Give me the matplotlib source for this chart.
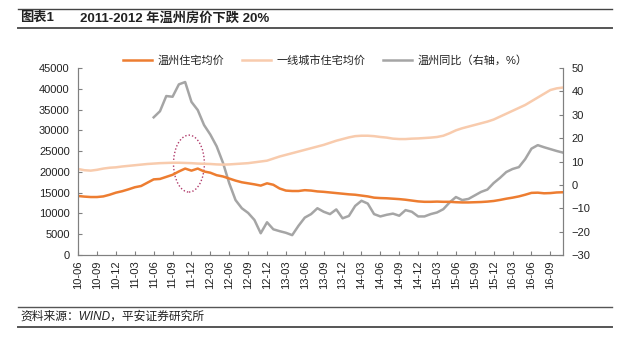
import numpy as np
import pandas as pd
import matplotlib
matplotlib.use("Agg")
import matplotlib.pyplot as plt
from matplotlib.patches import Ellipse
from matplotlib.lines import Line2D

plt.rcParams['font.family'] = ['Liberation Sans', 'Noto Sans CJK SC', 'DejaVu Sans']

# monthly data, 2010-06 .. 2016-11
months = pd.period_range('2010-06', '2016-11', freq='M')

wenzhou_price = [
    14200, 14050, 13950, 13950, 14100, 14500, 15000, 15350, 15800, 16300,
    16600, 17400, 18200, 18300, 18800, 19300, 20100, 20800, 20300, 20800,
    20100, 19800, 19200, 18900, 18400, 17900, 17500, 17250, 17000, 16700,
    17250, 16900, 16000, 15500, 15400, 15400, 15600, 15500, 15300, 15200,
    15050, 14900, 14750, 14600, 14500, 14300, 14100, 13800, 13700, 13650,
    13550, 13450, 13300, 13100, 12900, 12800, 12800, 12850, 12800, 12800,
    12700, 12650, 12650, 12700, 12750, 12850, 13000, 13250, 13550, 13800,
    14100, 14500, 14950, 15000, 14850, 14900, 15050, 15100,
]

tier1_price = [
    20700, 20400, 20300, 20500, 20800, 21000, 21100, 21300, 21450, 21600,
    21750, 21900, 22000, 22100, 22150, 22200, 22200, 22150, 22100, 22000,
    21950, 21900, 21800, 21750, 21800, 21900, 22000, 22100, 22300, 22500,
    22700, 23200, 23700, 24100, 24500, 24900, 25300, 25700, 26100, 26500,
    27000, 27500, 27900, 28300, 28600, 28700, 28700, 28600, 28400, 28250,
    28000, 27900, 27900, 28000, 28050, 28150, 28250, 28400, 28700, 29300,
    30000, 30500, 30900, 31300, 31700, 32100, 32600, 33300, 34000, 34700,
    35400, 36100, 37000, 37900, 38800, 39700, 40100, 40300,
]

wenzhou_yoy = [np.nan] * 12 + [
    28.9, 31.5, 38.0, 37.7, 43.0, 44.0, 35.5, 32.0, 25.6, 21.5,
    16.5, 9.5, 0.7, -6.5, -10.0, -12.0, -15.0, -20.7, -16.0, -19.0,
    -19.8, -20.5, -21.5, -17.5, -14.0, -12.5, -10.0, -11.5, -12.5, -10.5,
    -14.3, -13.3, -9.0, -6.8, -8.0, -12.5, -13.5, -12.8, -12.3, -13.2,
    -10.8, -11.5, -13.5, -13.5, -12.5, -11.8, -10.4, -7.5, -5.2, -6.5,
    -6.0, -4.5, -3.0, -2.0, 0.8, 3.0, 5.5, 6.8, 7.6, 11.0,
    15.5, 17.0, 16.1, 15.3, 14.5, 13.8,
]

tick_pos = list(range(0, len(months), 3))
tick_labels = [months[i].strftime('%y-%m') for i in tick_pos]

c_wz = '#ED7D31'
c_t1 = '#F8CBAD'
c_yoy = '#A5A5A5'
c_txt = '#222222'
c_ax = '#808080'

fig = plt.figure(figsize=(6.2, 3.4), dpi=100)
ax = fig.add_axes([0.126, 0.25, 0.782, 0.55])
ax2 = ax.twinx()

x = np.arange(len(months))
l1, = ax.plot(x, wenzhou_price, color=c_wz, lw=1.8, label='温州住宅均价')
l2, = ax.plot(x, tier1_price, color=c_t1, lw=1.8, label='一线城市住宅均价')
l3, = ax2.plot(x, wenzhou_yoy, color=c_yoy, lw=1.8, label='温州同比（右轴，%）')
ax.set_zorder(ax2.get_zorder() + 1)
ax.patch.set_visible(False)

# dotted circle around 2011-2012 peak
ax.add_patch(Ellipse((17.6, 22000), 4.9, 13700, fill=False, ls=(0, (1, 1.5)),
                     lw=1.0, ec='#B03A6A'))

ax.set_xlim(0, len(months) - 1)
ax.set_ylim(0, 45000)
ax.set_yticks(range(0, 45001, 5000))
ax2.set_ylim(-30, 50)
ax2.set_yticks(range(-30, 51, 10))
ax.set_xticks(tick_pos)
ax.set_xticklabels(tick_labels, rotation=90)

for a in (ax, ax2):
    for s in a.spines.values():
        s.set_color(c_ax)
        s.set_linewidth(0.8)
    a.spines['top'].set_visible(False)
    a.tick_params(direction='in', length=3, width=0.8, color=c_ax,
                  labelsize=8, labelcolor=c_txt)
ax.tick_params(axis='x', pad=4)
ax.tick_params(axis='y', pad=6)
ax2.tick_params(axis='y', pad=6)

fig.legend(handles=[l1, l2, l3], loc='center', bbox_to_anchor=(0.525, 0.823),
           ncol=3, frameon=False, fontsize=8, handlelength=2.6,
           columnspacing=1.6, handletextpad=0.5, labelcolor=c_txt)

# header and footer rules
W, H = 620.0, 340.0
def hline(ypx, lw, col):
    fig.add_artist(Line2D([18 / W, 612 / W], [1 - ypx / H, 1 - ypx / H],
                          color=col, lw=lw, transform=fig.transFigure))

hline(9, 1.0, '#444444')
hline(28, 1.4, '#555555')
hline(307, 1.0, '#555555')
hline(327, 1.4, '#555555')

fig.text(20 / W, 1 - 18 / H, '图表1', fontsize=9.5, fontweight='bold',
         va='center', color=c_txt)
fig.text(80 / W, 1 - 18 / H, '2011-2012 年温州房价下跌 20%', fontsize=9.5,
         fontweight='bold', va='center', color=c_txt)
fig.text(20 / W, 1 - 317 / H, '资料来源：WIND，平安证券研究所', fontsize=8.5,
         style='italic', va='center', color=c_txt)

fig.savefig('out.png', dpi=100, facecolor='white')
